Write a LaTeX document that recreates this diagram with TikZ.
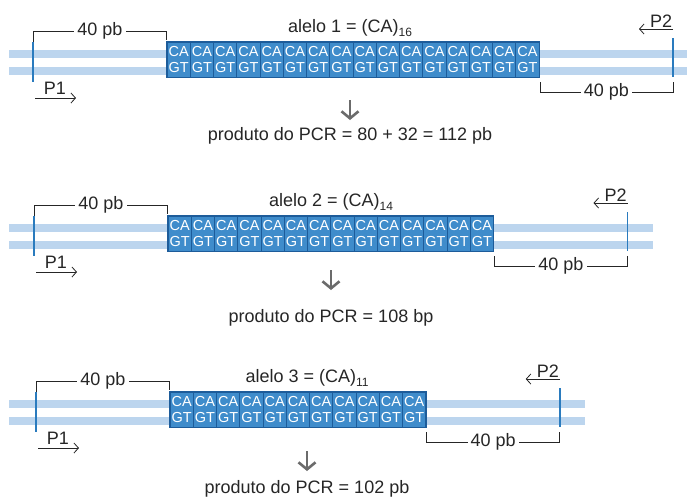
\documentclass[tikz,border=0pt]{standalone}
\usepackage{fontspec}
\setmainfont{Liberation Sans}
\usetikzlibrary{arrows.meta}

\definecolor{repfill}{HTML}{3F8CCB}
\definecolor{repline}{HTML}{1D5C9A}
\definecolor{strand}{HTML}{BCD5EE}
\definecolor{primer}{HTML}{2A7BBE}
\definecolor{ink}{HTML}{262626}
\definecolor{flow}{HTML}{6B6B6B}

\tikzset{
  lbl/.style={font=\fontsize{18}{20}\selectfont, text=ink, inner sep=0pt},
  gap/.style={lbl, fill=white, inner xsep=3pt, inner ysep=1pt},
  cell/.style={minimum width=23.25pt, minimum height=35pt, inner sep=0pt,
    draw=repline, line width=0.6pt, fill=repfill, text=white, align=center,
    font=\fontsize{14.5}{15.5}\selectfont},
  brk/.style={draw=ink, line width=0.8pt},
  primerline/.style={draw=primer, line width=1.7pt},
  primerarrow/.style={draw=ink, line width=0.8pt, -{Straight Barb[length=4.5pt,width=10pt]}},
  flowarrow/.style={draw=flow, line width=2.6pt, -{Straight Barb[length=7pt,width=17pt]}},
}

% subscript set below the baseline
\newcommand\lowidx[1]{\raisebox{-4pt}{\fontsize{12}{13}\selectfont #1}}

% one allele: #1 name, #2 top of repeat block, #3 left of block, #4 repeats,
% #5 centre of captions, #6 title, #7 product, #8 arrow top offset, #9 product baseline offset
\newcommand\ssrpanel[9]{%
  \pgfmathsetmacro\rgt{#3+#4*23.25}
  % the two DNA strands
  \fill[strand] (9,#2+8) rectangle (\rgt+159,#2+16);
  \fill[strand] (9,#2+25) rectangle (\rgt+159,#2+33);
  % CA/GT repeat block
  \foreach \k in {1,...,#4}{
    \node[cell] (#1c\k) at ({#3+(\k-0.5)*23.25},#2+17.5) {CA\\GT};
  }
  \draw[repline, line width=1pt] (#1c1.north west) rectangle (#1c#4.south east);
  % primer sites
  \coordinate (#1ua) at (#3-134,#2);
  \coordinate (#1ub) at (#3-134,#2+40);
  \draw[primerline] (#1ua) -- (#1ub);
  \coordinate (#1va) at (\rgt+134,#2-4);
  \coordinate (#1vb) at (\rgt+134,#2+35);
  \draw[primerline] (#1va) -- (#1vb);
  % left 40 pb bracket
  \coordinate (#1la) at (#3-134,#2);
  \coordinate (#1lb) at (#3-134,#2-11);
  \coordinate (#1lc) at (#3-1,#2-11);
  \coordinate (#1ld) at (#3-1,#2-2);
  \draw[brk] (#1la) -- (#1lb) -- (#1lc) -- (#1ld);
  \node[gap] (#1lt) at (#3-67,#2-11) {40 pb};
  % right 40 pb bracket
  \coordinate (#1ra) at (\rgt+1,#2+40);
  \coordinate (#1rb) at (\rgt+1,#2+50);
  \coordinate (#1rc) at (\rgt+134,#2+50);
  \coordinate (#1rd) at (\rgt+134,#2+40);
  \draw[brk] (#1ra) -- (#1rb) -- (#1rc) -- (#1rd);
  \node[gap] (#1rt) at (\rgt+67.5,#2+50) {40 pb};
  % primers
  \coordinate (#1pa) at (#3-132,#2+56);
  \coordinate (#1pb) at (#3-91,#2+56);
  \draw[primerarrow] (#1pa) -- (#1pb);
  \node[lbl, anchor=base] (#1p) at (#3-112,#2+52) {P1};
  \coordinate (#1qa) at (\rgt+134,#2-13);
  \coordinate (#1qb) at (\rgt+100,#2-13);
  \draw[primerarrow] (#1qa) -- (#1qb);
  \node[lbl, anchor=base] (#1q) at (\rgt+122,#2-15) {P2};
  % captions
  \node[lbl, anchor=base] (#1title) at (#5,#2-10) {#6};
  \coordinate (#1da) at (#5,#2+#8);
  \coordinate (#1db) at (#5,#2+#8+20);
  \draw[flowarrow] (#1da) -- (#1db);
  \node[lbl, anchor=base] (#1prod) at (#5,#2+#9) {#7};
}

\begin{document}
\begin{tikzpicture}[x=1pt,y=-1pt]
  \useasboundingbox (0,0) rectangle (687,499);
  \fill[white] (0,0) rectangle (687,499);
  \clip (0,0) rectangle (687,499);

  \ssrpanel{a}{42}{167}{16}{350}{alelo 1 = (CA)\lowidx{16}}
    {produto do PCR = 80 + 32 = 112 pb}{58}{98}
  \ssrpanel{b}{216}{168}{14}{331}{alelo 2 = (CA)\lowidx{14}}
    {produto do PCR = 108 bp}{54}{106}
  \ssrpanel{c}{392}{170}{11}{307}{alelo 3 = (CA)\lowidx{11}}
    {produto do PCR = 102 pb}{59}{101}
\end{tikzpicture}
\end{document}
